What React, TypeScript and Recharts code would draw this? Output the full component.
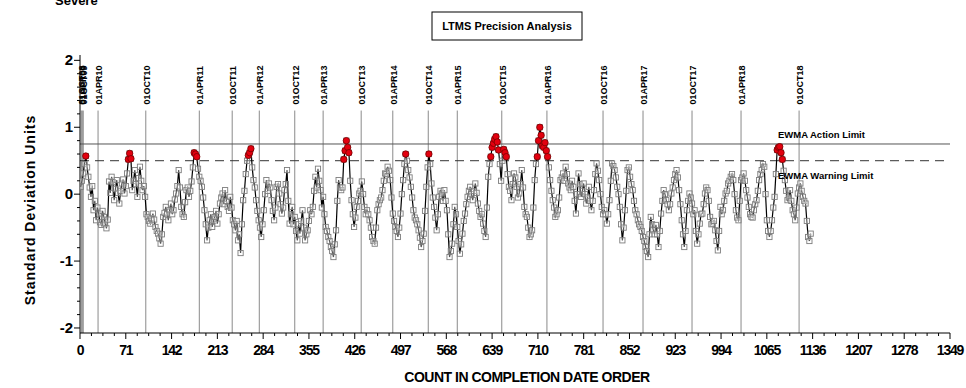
import React from 'react';
import { ComposedChart, Line, Scatter, XAxis, YAxis, ReferenceLine } from 'recharts';

// EWMA values: "A" arrays hold counts 1, 5, 9 ...; "B" arrays hold counts 3, 7, 11 ...
const A_FIRST = 1;
const B_FIRST = 3;
const COUNT_STEP = 4;

const sd2009A = [
  0.11, 0.31, 0.57, 0.26, -0.04, -0.24, -0.39, -0.29, -0.46, -0.34,
  -0.51, 0.19, 0.26, -0.09, 0.21, -0.14, 0.16, 0.01, 0.31, 0.61,
  0.06, 0.36, -0.04, 0.41, 0.06, -0.04, -0.34, -0.44, -0.29, -0.49,
  -0.59, -0.74, -0.34, -0.19, -0.39, -0.14, -0.24, 0.01, 0.36, -0.19,
  -0.34, 0.06, -0.04, 0.19, 0.62, 0.56, 0.26, 0.11, -0.24,
];
const sd2011A = [
  -0.69, -0.39, -0.49, -0.34, -0.44, -0.14, 0.01, 0.06, -0.19, -0.04,
  -0.39, -0.54, -0.69, -0.88, -0.09, 0.3, 0.58, 0.68, 0.21, -0.09,
  -0.39, -0.64, -0.24, 0.21, 0.16, -0.09, -0.39, 0.11, 0.01, -0.29,
  0.06, 0.36, -0.44, -0.19, -0.34, -0.69, -0.59, -0.24, -0.69, -0.54,
  -0.24, -0.19, 0.26, 0.38, 0.06, -0.04, -0.49,
];
const sd2013A = [
  -0.64, -0.79, -0.94, -0.54, 0.21, 0.06, 0.52, 0.8, 0.62, -0.09,
  -0.49, -0.19, 0.01, 0.19, -0.19, -0.24, -0.39, -0.64, -0.74, -0.24,
  -0.09, 0.06, 0.31, 0.41, 0.21, -0.29, -0.49, -0.64, -0.29, 0.21,
  0.6, 0.36, 0.11, -0.24, -0.39, -0.54, -0.79, -0.59, 0.11, 0.6,
  0.16, -0.19, -0.54, -0.04, 0.01, 0.06, -0.24,
];
const sd2015A = [
  -0.94, -0.74, -0.19, -0.49, -0.89, -0.59, -0.29, -0.04, 0.11, -0.09,
  0.16, -0.14, -0.34, -0.44, -0.64, 0.26, 0.56, 0.76, 0.86, 0.66,
  0.2, 0.67, 0.56, 0.11, -0.09, 0.31, 0.11, 0.01, 0.36, -0.19,
  -0.34, -0.64, -0.54, 0.21, 0.56, 1.0, 0.72, 0.77, 0.56, 0.21,
  -0.09, -0.34, -0.24, 0.21, 0.31, 0.41, 0.16,
];
const sd2016A = [
  0.06, 0.11, -0.29, 0.31, -0.04, 0.16, -0.14, 0.11, -0.24, 0.06,
  0.46, 0.21, -0.19, -0.24, -0.44, -0.09, 0.46, 0.36, 0.11, -0.19,
  -0.69, -0.24, 0.36, 0.26, 0.06, -0.24, -0.39, -0.49, -0.64, -0.79,
  -0.94, -0.34, -0.54, -0.46, -0.79, -0.29, 0.06, -0.09, -0.24, 0.01,
  0.21, 0.36, 0.06, -0.39, -0.79, -0.24, 0.01,
];
const sd2017A = [
  -0.14, -0.24, -0.74, -0.44, -0.29, 0.01, 0.06, -0.34, -0.44, -0.54,
  -0.84, -0.19, -0.24, 0.01, 0.16, 0.26, 0.21, -0.24, -0.39, 0.21,
  0.31, 0.06, -0.19, -0.34, -0.24, -0.09, 0.21, 0.36, 0.41, -0.39,
  -0.64, -0.39, -0.04, 0.66, 0.71, 0.52, 0.21, -0.09, 0.06, -0.24,
  -0.39, 0.01, 0.16, -0.04, -0.14, -0.64, -0.59,
];

const sd2009B = [
  0.2, 0.45, 0.4, 0.1, 0.12, -0.1, -0.2, -0.42, -0.25, -0.44,
  -0.38, 0.02, 0.18, 0.08, 0.02, 0.05, 0.22, 0.12, 0.52, 0.53,
  0.2, 0.15, 0.24, 0.2, 0.12, -0.3, -0.4, -0.36, -0.38, -0.55,
  -0.66, -0.6, -0.28, -0.3, -0.24, -0.3, -0.08, 0.12, 0.1, -0.3,
  -0.12, 0.1, 0.05, 0.4, 0.6, 0.38, 0.2, -0.05,
];
const sd2011B = [
  -0.45, -0.5, -0.3, -0.4, -0.25, -0.3, -0.05, -0.15, -0.1, -0.25,
  -0.2, -0.45, -0.4, -0.6, -0.45, 0.05, 0.5, 0.62, 0.4, 0.1,
  -0.25, -0.5, -0.45, 0.0, 0.05, 0.1, -0.25, -0.2, 0.15, -0.15,
  -0.2, 0.15, -0.1, -0.3, -0.45, -0.55, -0.45, -0.4, -0.5, -0.6,
  -0.4, -0.3, 0.05, 0.1, 0.2, -0.2, -0.3,
];
const sd2013B = [
  -0.55, -0.7, -0.85, -0.75, -0.1, 0.1, 0.1, 0.65, 0.7, 0.2,
  -0.3, -0.35, -0.1, 0.05, 0.0, -0.3, -0.3, -0.5, -0.7, -0.5,
  -0.15, -0.05, 0.2, 0.3, 0.35, -0.05, -0.4, -0.55, -0.5, 0.0,
  0.45, 0.5, 0.25, -0.05, -0.35, -0.45, -0.65, -0.7, -0.25, 0.4,
  0.45, -0.05, -0.35, -0.3, 0.05, -0.1, -0.1,
];
const sd2015B = [
  -0.6, -0.85, -0.45, -0.3, -0.7, -0.75, -0.4, -0.15, 0.05, 0.0,
  0.05, 0.02, -0.25, -0.3, -0.55, -0.2, 0.45, 0.7, 0.82, 0.78,
  0.45, 0.5, 0.62, 0.3, 0.05, 0.15, 0.25, -0.05, 0.15, 0.1,
  -0.3, -0.5, -0.6, -0.2, 0.45, 0.8, 0.88, 0.7, 0.65, 0.4,
  0.05, -0.2, -0.3, -0.05, 0.25, 0.2, 0.3,
];
const sd2016B = [
  0.1, 0.2, -0.1, 0.0, 0.15, 0.05, 0.0, -0.05, -0.1, -0.1,
  0.3, 0.35, 0.0, -0.3, -0.3, -0.3, 0.2, 0.42, 0.25, 0.0,
  -0.45, -0.5, 0.05, 0.4, 0.15, -0.1, -0.3, -0.45, -0.55, -0.7,
  -0.85, -0.6, -0.45, -0.6, -0.6, -0.55, -0.1, 0.0, -0.15, -0.15,
  0.1, 0.3, 0.25, -0.15, -0.6, -0.55, -0.1,
];
const sd2017B = [
  -0.05, -0.3, -0.55, -0.6, -0.3, -0.15, 0.1, -0.1, -0.45, -0.4,
  -0.7, -0.55, -0.3, -0.1, 0.05, 0.2, 0.3, 0.0, -0.35, -0.1,
  0.25, 0.2, -0.05, -0.3, -0.35, -0.15, 0.05, 0.3, 0.45, 0.0,
  -0.55, -0.55, -0.2, 0.3, 0.7, 0.62, 0.35, 0.05, -0.05, -0.1,
  -0.3, -0.2, 0.1, 0.05, -0.1, -0.4, -0.7,
];

const actionLimit = 0.75;
const warningLimit = 0.5;

const xTicks = [0, 71, 142, 213, 284, 355, 426, 497, 568, 639, 710, 781, 852, 923, 994, 1065, 1136, 1207, 1278, 1349];
const yTicks = [-2, -1, 0, 1, 2];

const dateCounts = [2, 3.5, 5, 28, 102, 185, 236, 278, 333, 377, 436, 485, 540, 585, 654, 724, 811, 873, 949, 1025, 1115];
const dateLabels = [
  '01OCT08', '01APR09', '01OCT09', '01APR10', '01OCT10', '01APR11', '01OCT11',
  '01APR12', '01OCT12', '01APR13', '01OCT13', '01APR14', '01OCT14', '01APR15',
  '01OCT15', '01APR16', '01OCT16', '01APR17', '01OCT17', '01APR18', '01OCT18',
];

const sdA = [...sd2009A, ...sd2011A, ...sd2013A, ...sd2015A, ...sd2016A, ...sd2017A];
const sdB = [...sd2009B, ...sd2011B, ...sd2013B, ...sd2015B, ...sd2016B, ...sd2017B];
const rows = [
  ...sdA.map((sd, i) => ({ count: A_FIRST + i * COUNT_STEP, sd })),
  ...sdB.map((sd, i) => ({ count: B_FIRST + i * COUNT_STEP, sd })),
].sort((a, b) => a.count - b.count);
const alarmRows = rows.filter((r) => r.sd > warningLimit);

// minor ticks between the labelled ones
const xAll: number[] = [];
xTicks.forEach((t, i) => {
  xAll.push(t);
  if (i < xTicks.length - 1) for (let k = 1; k < 4; k++) xAll.push(t + (71 * k) / 4);
});
const yAll: number[] = [];
yTicks.forEach((t, i) => {
  yAll.push(t);
  if (i < yTicks.length - 1) for (let k = 1; k < 5; k++) yAll.push(t + k * 0.2);
});

const FONT = '"Liberation Sans", Arial, sans-serif';

const Square = (props: any) => {
  const { cx, cy } = props;
  if (cx == null || cy == null) return null;
  return <rect x={cx - 2.6} y={cy - 2.6} width={5.2} height={5.2} fill="#fff" fillOpacity={0.35} stroke="#7d7d7d" strokeWidth={0.9} />;
};

const RedDot = (props: any) => {
  const { cx, cy } = props;
  if (cx == null || cy == null) return null;
  return <circle cx={cx} cy={cy} r={3.2} fill="#e3000f" stroke="#7a0000" strokeWidth={0.8} />;
};

const XTick = (props: any) => {
  const { x, y, payload } = props;
  const major = xTicks.includes(payload.value);
  return (
    <g>
      <line x1={x} x2={x} y1={y} y2={y + (major ? 6 : 3)} stroke="#000" />
      {major && (
        <text x={x} y={y + 22} textAnchor="middle" fontSize={14} fontWeight="bold" letterSpacing={-1.2} fontFamily={FONT} fill="#000">
          {payload.value}
        </text>
      )}
    </g>
  );
};

const YTick = (props: any) => {
  const { x, y, payload } = props;
  const v = Math.round(payload.value * 10) / 10;
  const major = yTicks.includes(v);
  return (
    <g>
      <line x1={x} x2={x - (major ? 6 : 3)} y1={y} y2={y} stroke="#000" />
      {major && (
        <text x={x - 7} y={y + 5} textAnchor="end" fontSize={15} fontWeight="bold" fontFamily={FONT} fill="#000">
          {v}
        </text>
      )}
    </g>
  );
};

const DateLabel = (text: string) => (props: any) => {
  const { viewBox } = props;
  if (!viewBox) return null;
  const x = viewBox.x + 4;
  const y = viewBox.y - 6;
  return (
    <text transform={`translate(${x},${y}) rotate(-90)`} fontSize={9} fontWeight="bold" fontFamily={FONT} fill="#000">
      {text}
    </text>
  );
};

export default function App() {
  return (
    <div style={{ position: 'absolute', left: 0, top: 0, width: 966, height: 388, background: '#fff' }}>
      <ComposedChart width={966} height={388} data={rows} margin={{ top: 55, right: 16, bottom: 0, left: 20 }}>
        <XAxis
          type="number"
          dataKey="count"
          domain={[0, 1349]}
          ticks={xAll}
          interval={0}
          tick={<XTick />}
          tickLine={false}
          tickSize={0}
          tickMargin={0}
          height={55}
          stroke="#000"
          allowDataOverflow
        />
        <YAxis
          type="number"
          domain={[-2.075, 2.08]}
          ticks={yAll}
          interval={0}
          tick={<YTick />}
          tickLine={false}
          tickSize={0}
          tickMargin={0}
          width={60}
          stroke="#000"
          allowDataOverflow
        />
        {dateCounts.map((c, i) => (
          <ReferenceLine
            key={dateLabels[i]}
            segment={[{ x: c, y: -2.075 }, { x: c, y: 1.25 }]}
            stroke="#8a8a8a"
            strokeWidth={1}
            label={DateLabel(dateLabels[i])}
          />
        ))}
        <ReferenceLine y={actionLimit} stroke="#555" strokeWidth={1} />
        <ReferenceLine y={warningLimit} stroke="#333" strokeWidth={1} strokeDasharray="9 6" />
        <Scatter dataKey="sd" shape={<Square />} isAnimationActive={false} />
        <Line type="linear" dataKey="sd" stroke="#000" strokeWidth={1.2} dot={false} activeDot={false} isAnimationActive={false} />
        <Scatter data={alarmRows} dataKey="sd" shape={<RedDot />} isAnimationActive={false} />
      </ComposedChart>
      <svg width={966} height={388} style={{ position: 'absolute', left: 0, top: 0, pointerEvents: 'none' }}>
        <text x={55} y={5} fontSize={13} fontWeight="bold" fontFamily={FONT}>Severe</text>
        <rect x={432} y={12} width={150} height={28} fill="#fff" stroke="#000" strokeWidth={1} />
        <text x={507} y={30} textAnchor="middle" fontSize={11} fontWeight="bold" fontFamily={FONT}>LTMS Precision Analysis</text>
        <text x={778} y={138} fontSize={9.5} fontFamily={FONT} fontWeight="bold">EWMA Action Limit</text>
        <text x={778} y={179} fontSize={9.5} fontFamily={FONT} fontWeight="bold">EWMA Warning Limit</text>
        <text transform="translate(35,210) rotate(-90)" textAnchor="middle" fontSize={14} fontWeight="bold" letterSpacing={1} fontFamily={FONT}>
          Standard Deviation Units
        </text>
        <text x={527} y={382} textAnchor="middle" fontSize={14} fontWeight="bold" letterSpacing={-0.5} fontFamily={FONT}>
          COUNT IN COMPLETION DATE ORDER
        </text>
      </svg>
    </div>
  );
}
